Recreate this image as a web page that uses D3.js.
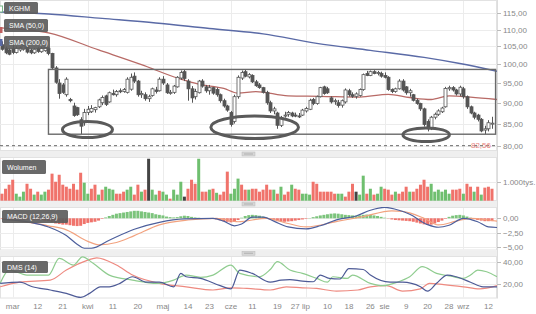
<!DOCTYPE html>
<html><head><meta charset="utf-8">
<script src="https://cdn.jsdelivr.net/npm/d3@7"></script>
<style>body{margin:0;background:#fff}svg{display:block}text{font-family:"Liberation Sans",Arial,sans-serif}</style>
</head><body><svg id="c" width="536" height="314"></svg>
<script>
// ---------- DATA ----------
const firstDay = -3; // trading-day index of first candle (0 = 1 March)
const ohlc = [
[105.5,106.5,103.8,104.2],[104.5,105.0,102.8,103.2],[104.0,104.5,102.5,102.8],[104.5,105.5,102.8,103.3],[103.3,105.0,103.0,104.5],
[104.0,105.0,103.5,104.6],[104.2,105.5,103.8,105.2],[105.0,105.5,103.0,103.4],[104.0,104.5,102.8,103.2],[103.2,104.6,102.9,104.2],
[104.4,104.8,103.2,103.6],[103.5,104.8,103.2,104.5],[103.8,105.2,103.5,104.8],[104.5,104.8,102.5,103.0],[103.0,103.2,98.5,99.0],
[99.0,99.5,94.8,95.2],[95.0,96.0,91.0,92.3],[94.5,95.0,92.2,92.6],[92.0,96.5,91.5,96.0],[90.8,91.2,90.1,90.5],
[89.2,90.0,86.6,86.9],[88.8,89.0,86.8,87.1],[85.9,86.5,82.6,84.4],[85.2,88.5,84.5,87.6],[87.6,89.2,87.0,88.4],
[87.8,89.4,87.5,88.6],[88.3,89.0,87.6,88.8],[89.0,91.0,88.7,90.7],[90.0,91.8,89.4,91.3],[91.7,92.0,89.2,89.6],
[90.2,92.8,90.0,92.5],[92.3,93.3,91.8,92.0],[92.0,93.2,91.5,92.8],[93.0,93.6,92.4,92.8],[92.8,93.7,92.5,93.3],
[92.6,96.5,92.3,96.0],[93.4,97.5,93.0,96.5],[96.8,97.8,95.0,95.5],[95.5,95.8,91.5,92.0],[92.0,93.0,91.2,92.3],
[92.0,92.6,90.5,91.0],[91.0,92.0,90.2,91.5],[91.8,93.8,91.5,93.5],[93.2,94.0,92.3,92.8],[93.0,96.5,92.8,96.0],
[96.0,96.8,94.5,95.0],[94.5,95.0,92.2,92.5],[92.5,93.2,92.0,92.6],[92.6,94.5,92.2,94.2],[94.0,96.8,93.8,96.5],
[96.3,98.3,95.8,97.8],[98.0,98.6,95.5,96.2],[95.5,96.0,90.5,93.5],[93.5,94.2,90.0,91.2],[91.5,93.5,90.8,92.8],
[92.5,95.8,92.3,95.5],[95.5,96.0,93.8,94.2],[94.0,94.5,92.5,93.0],[93.0,94.5,92.0,93.8],[93.8,94.0,92.0,92.4],
[93.3,93.8,91.5,92.0],[92.0,92.3,90.0,90.5],[90.5,91.0,88.8,89.2],[89.2,89.5,87.8,88.2],[87.6,88.0,84.3,84.8],
[85.5,92.0,85.0,91.5],[91.5,97.0,91.0,96.5],[96.3,98.3,95.8,97.8],[98.0,98.5,96.5,96.8],[96.6,97.6,96.2,97.2],
[97.0,97.3,95.0,95.3],[95.3,95.8,94.0,94.3],[94.5,95.0,93.5,93.8],[93.8,94.0,92.3,92.6],[92.6,93.0,89.5,90.0],
[90.0,90.5,87.5,88.0],[88.0,89.0,87.2,88.5],[87.5,87.8,83.8,84.6],[84.6,86.8,84.2,86.4],[86.8,87.8,86.4,87.0],
[87.2,88.0,86.6,87.6],[87.5,87.8,86.5,86.8],[87.0,87.6,86.5,86.8],[86.8,87.5,86.3,86.7],[87.0,88.5,86.8,88.2],
[88.0,89.0,87.6,88.6],[88.4,91.0,88.2,90.6],[90.8,91.2,89.4,89.8],[89.8,91.8,89.5,91.5],[91.5,94.0,91.3,93.8],
[94.0,94.3,92.0,92.3],[93.5,94.0,92.2,92.5],[91.2,91.6,89.8,90.2],[90.3,91.0,89.5,90.5],[90.0,90.7,88.8,89.3],
[89.4,90.8,88.8,90.5],[90.2,93.6,89.8,93.2],[93.0,93.5,91.5,92.0],[92.0,92.6,91.2,91.6],[91.6,92.6,91.0,92.2],
[91.8,93.6,91.5,93.3],[93.3,97.5,93.0,97.2],[97.5,98.2,96.8,97.0],[97.0,98.3,96.8,98.0],[98.0,98.4,97.3,97.5],
[97.5,98.2,97.0,97.8],[97.5,98.0,96.4,96.8],[97.0,97.8,96.2,96.5],[96.5,96.8,93.0,93.3],[93.3,93.6,92.4,92.8],
[92.8,93.8,92.5,93.5],[93.5,96.0,93.3,95.5],[95.5,96.0,92.8,93.2],[94.0,94.2,92.0,92.5],[92.5,93.5,91.5,93.0],
[92.0,92.2,90.3,90.6],[90.6,91.0,89.5,89.8],[89.8,90.0,88.0,88.5],[88.5,88.8,84.3,84.8],[85.5,86.0,83.2,83.8],
[84.0,86.8,83.5,86.5],[86.5,87.6,86.0,87.2],[87.2,88.4,86.8,88.0],[87.8,89.0,87.5,88.7],[89.0,94.0,88.8,93.6],
[93.5,94.3,93.0,93.8],[93.8,94.2,92.8,93.2],[93.2,93.5,91.8,92.2],[92.2,94.3,91.6,93.9],[93.5,94.0,91.0,91.5],
[91.5,91.8,88.5,89.0],[89.0,89.3,87.2,87.5],[87.5,87.8,86.0,86.5],[87.0,87.3,85.5,86.0],[86.0,86.3,83.0,83.3],
[83.5,84.5,82.56,83.8],[83.8,85.8,83.2,85.2],[85.0,86.6,83.8,85.1]
];
const volume = [
380,650,870,1140,380,220,490,920,650,330, 490,330,490,600,1470,1030,1410,870,760,650,
920,600,1520,980,380,650,870,330,600,760, 650,600,380,380,490,600,760,330,870,490,
600,2280,600,330,540,490,330,110,600,330, 1030,220,650,1140,920,2280,490,490,600,650,
430,330,490,1580,380,650,1200,870,600,600, 650,650,490,600,870,600,600,380,760,330,
490,870,650,600,380,380,330,1030,920,490, 490,490,490,380,380,380,220,490,920,490,
330,1360,380,650,330,380,760,650,600,330, 490,380,490,760,490,490,650,870,1140,760,
920,490,600,490,600,380,600,600,650,380, 920,760,490,760,330,710,760,650
];
const volumeDir = ("rrrrgggrrg rggrrrrrrr rrrggrrgrg ggrrrggrrg rdggrggrgg gdrrrgrrgr grrrgggrrg " +
                   "rrrrrrgrgr rgrrgggrrr rrrrggrrrd ggrgrggrrr grrrgrrrrr ggggggrrrg rrgrgrrr").replace(/ /g,"").split("");
const macdHist = [
-0.1,-0.1,-0.15,-0.2,-0.2,-0.2,-0.25,-0.2,-0.2,-0.25, -0.3,-0.3,-0.4,-0.5,-0.7,-0.9,-1.0,-1.1,-1.1,-1.2,
-1.3,-1.35,-1.3,-1.0,-0.8,-0.7,-0.6,-0.4,-0.1,0.15, 0.4,0.6,0.8,0.9,1.0,1.1,1.2,1.3,1.3,1.2,
1.1,1.0,0.9,0.7,0.6,0.5,0.3,0.2,0.15,0.2, 0.35,0.45,0.4,0.25,0.15,0.1,0.05,0.0,-0.05,-0.1,
-0.2,-0.35,-0.5,-0.6,-0.7,-0.6,-0.3,0.1,0.4,0.55, 0.6,0.55,0.45,0.3,0.1,-0.2,-0.35,-0.5,-0.6,-0.6,
-0.55,-0.5,-0.4,-0.3,-0.2,-0.1,0.05,0.2,0.35,0.5, 0.6,0.7,0.8,0.85,0.8,0.7,0.6,0.55,0.5,0.45,
0.5,0.6,0.65,0.6,0.5,0.4,0.25,0.1,-0.05,-0.2, -0.3,-0.35,-0.4,-0.45,-0.5,-0.6,-0.75,-0.9,-1.05,-1.15,
-1.1,-0.9,-0.65,-0.4,-0.1,0.25,0.45,0.55,0.6,0.5, 0.3,0.1,-0.15,-0.3,-0.4,-0.5,-0.5,-0.5
];
const macdLine = [[-3,-0.2],[5,-0.7],[10,-1.5],[15,-3.0],[18,-4.5],[20,-5.2],[22,-5.2],[27,-3.8],[34,-1.9],[41,-0.7],[48,-0.1],[56,0.0],[59,-0.5],[62,-1.3],[64,-1.0],[67,0.2],[70,0.2],[73,-0.5],[77,-1.5],[82,-1.85],[86,-1.3],[91,-0.2],[96,0.4],[100,1.4],[104,1.9],[108,1.4],[111,0.7],[116,-1.1],[119,-1.55],[122,-1.2],[126,0.0],[130,-0.6],[133,-1.5],[135.4,-1.6]];
const signalLine = [[-3,-0.1],[10,-1.3],[15,-2.0],[21,-4.0],[24,-4.6],[29,-4.2],[34,-3.0],[41,-1.15],[49,-0.3],[57,0.0],[63,-0.6],[71,0.0],[77,-0.9],[82,-1.5],[91,-0.5],[98,0.3],[106,1.3],[109,1.2],[115,0.0],[119,-1.15],[124,-0.5],[128,0.0],[133,-0.3],[135.4,-0.5]];
const sma50 = [[-3.5,110.5],[10,109.0],[24,104.0],[36,99.9],[47,96.0],[52,94.7],[59,93.6],[63,92.4],[68,92.8],[77,91.7],[86,91.6],[97,91.4],[105,92.1],[111,91.3],[117,90.8],[122,91.7],[128,91.4],[135.4,90.8]];
const sma200 = [[-3.5,115.4],[10,114.8],[25,113.4],[40,112.0],[55,110.3],[70,108.7],[85,105.9],[100,103.9],[115,101.9],[125,100.2],[135.4,98.1]];
const dmsPlus = [[-3.5,20.6],[-1,32.5],[4,28],[10,28],[13,43],[17,37],[19.5,44.4],[22.5,38.5],[27,28],[33.5,23.5],[40.5,20.6],[45,23.5],[48.5,28],[52.5,26],[56,28],[61,37],[63.5,29.5],[69,26.5],[72,33],[74,40],[77.5,32.5],[81,29.5],[85,25],[88,21.6],[89.5,26.5],[93.5,25],[95,28],[100,20.6],[103.5,18.5],[107.5,21.6],[111,26.5],[114.5,35.5],[118.5,29.5],[122.5,27],[126,25],[128,28],[130,32.5],[132.5,31],[135.4,26.5]];
const dmsMinus = [[-3.5,20.6],[2,21.6],[5.5,17.5],[10.5,14.6],[15,11.6],[19,8],[21.5,11.6],[24.5,17.5],[27,17.5],[30,20.6],[33.5,26.5],[37.5,21.6],[41,21.6],[45,17.5],[47,29.5],[48.5,26.5],[52.5,25],[58,18.5],[61,15.6],[63.5,32.5],[67,29.5],[72,21.6],[75,23.5],[77.5,24],[81,22.5],[84,22],[86,27.9],[88.5,25],[91.5,24.5],[94,33.8],[98,33],[100,28],[105.5,21.6],[109,21.6],[114,17.5],[116,13.6],[118.5,20.6],[121.5,28],[124,26.5],[128,21.6],[131.5,17.5],[135.4,17.5]];
const adx = [[-3.5,17.5],[2,21.6],[10.5,23.5],[15,32.5],[21,41.4],[23.5,43.5],[29,37],[33.5,28],[41,20.6],[48.5,17.5],[56,14.6],[61,16.6],[65.5,16],[72,14.6],[76.5,17.5],[81,16.6],[85,16],[90.5,13.6],[96.5,14.6],[100,17.5],[104.5,18.5],[109,13.6],[114,15.6],[116.5,20.6],[120.5,19.5],[126,17.5],[130.5,15.6],[135.4,18.5]];
const priceTicks = [115,110,105,100,95,90,85,80];
const macdTicks = [0,-2.5,-5];
const dmsTicks = [40,20];
const volumeTicks = [1000];
const dateTicks = [[0,"mar"],[7,"12"],[14,"21"],[21,"kwi"],[28,"11"],[35,"20"],[42,"maj"],[49,"14"],[55,"23"],[61,"cze"],[67,"11"],[74,"19"],[79,"27"],[82,"lip"],[88,"10"],[94,"18"],[100,"26"],[104,"sie"],[110,"9"],[116,"20"],[122,"28"],[126,"wrz"],[133,"12"]];
const monthStarts = [0,21,42,61,82,104,126];
const channel = {from:10, to:135, top:98.6, bottom:82.56};
const circles = [{d0:13.9,d1:27.9,p0:85.5,p1:81.8},{d0:55.4,d1:79.9,p0:86.8,p1:81.6},{d0:109.1,d1:122.1,p0:84.0,p1:80.9}];
const minLevel = 80, minLabel = "82,56";

// ---------- CHART ----------
const PR = 497;
const svg = d3.select("#c");
const x = d3.scaleLinear().domain([-3.55,135.4]).range([0,PR]);
const yP = d3.scaleLog().domain([80,115]).range([145.7,13.3]);
const yV = d3.scaleLinear().domain([0,1000]).range([200.7,182.3]);
const yM = d3.scaleLinear().domain([0,-2.5]).range([218.3,232.7]);
const yD = d3.scaleLinear().domain([40,20]).range([261.7,284]);
const panels = [{y0:0,y1:151},{y0:157,y1:201},{y0:207,y1:250.5},{y0:256,y1:298.5}];
const fmt = v => d3.format(".2f")(v).replace(".",",");
const defs = svg.append("defs");
panels.forEach((p,i)=>defs.append("clipPath").attr("id","cp"+i).append("rect").attr("x",0).attr("y",p.y0).attr("width",PR).attr("height",p.y1-p.y0));

// panels background + separators
panels.forEach((p,i)=>{
  svg.append("rect").attr("x",0.5).attr("y",p.y0+0.5).attr("width",PR-1).attr("height",p.y1-p.y0-1).attr("fill","#fff").attr("stroke","#e2e2e2");
  if(i<panels.length-1){
    const s0=p.y1, s1=panels[i+1].y0;
    svg.append("rect").attr("x",0).attr("y",s0).attr("width",PR).attr("height",s1-s0).attr("fill","#efefef");
    const cy=(s0+s1)/2;
    svg.append("rect").attr("x",242).attr("y",cy-2).attr("width",13).attr("height",4).attr("fill","#d6d6d6").attr("stroke","#bbb").attr("stroke-width",0.5);
    svg.append("line").attr("x1",244).attr("x2",253).attr("y1",cy).attr("y2",cy).attr("stroke","#999").attr("stroke-width",0.6);
  }
});
svg.append("line").attr("x1",PR+0.5).attr("x2",PR+0.5).attr("y1",0).attr("y2",298.5).attr("stroke","#ddd");

// vertical grid
panels.forEach((p,i)=>{
  svg.append("g").selectAll("line").data(monthStarts).join("line")
    .attr("x1",d=>Math.round(x(d))+0.5).attr("x2",d=>Math.round(x(d))+0.5)
    .attr("y1",p.y0+1).attr("y2",p.y1-1).attr("stroke","#ececec");
});
function hAxis(scale, ticks, p, labelFn){
  const g=svg.append("g");
  g.selectAll("line.g").data(ticks).join("line").attr("class","g")
    .attr("x1",0).attr("x2",PR).attr("y1",d=>Math.round(scale(d))+0.5).attr("y2",d=>Math.round(scale(d))+0.5).attr("stroke","#ececec");
  g.selectAll("line.t").data(ticks).join("line").attr("class","t")
    .attr("x1",PR).attr("x2",PR+4).attr("y1",d=>Math.round(scale(d))+0.5).attr("y2",d=>Math.round(scale(d))+0.5).attr("stroke","#bbb");
  g.selectAll("text").data(ticks).join("text")
    .attr("x",PR+6).attr("y",d=>scale(d)+3).attr("font-size",8).attr("fill","#888").text(labelFn);
}
hAxis(yP, priceTicks, panels[0], fmt);
hAxis(yV, volumeTicks, panels[1], d=>d3.format(",")(d).replace(",",".")+"tys.");
hAxis(yM, macdTicks, panels[2], fmt);
hAxis(yD, dmsTicks, panels[3], fmt);

svg.append("g").selectAll("text").data(dateTicks).join("text")
  .attr("x",d=>x(d[0])).attr("y",309).attr("text-anchor","middle").attr("font-size",8).attr("fill","#888").text(d=>d[1]);

// ---- price panel ----
const gp = svg.append("g").attr("clip-path","url(#cp0)");
const line = (xs,ys)=>d3.line().x(d=>xs(d[0])).y(d=>ys(d[1])).curve(d3.curveMonotoneX);
gp.append("path").datum(sma200).attr("d",line(x,yP)).attr("fill","none").attr("stroke","#5a6aa6").attr("stroke-width",1.4);
gp.append("path").datum(sma50).attr("d",line(x,yP)).attr("fill","none").attr("stroke","#b86a66").attr("stroke-width",1.3);
const candles = ohlc.map((r,i)=>({d:firstDay+i,o:r[0],h:r[1],l:r[2],c:r[3]}));
const cg = gp.append("g");
cg.selectAll("line").data(candles).join("line")
  .attr("x1",d=>Math.round(x(d.d))+0.5).attr("x2",d=>Math.round(x(d.d))+0.5)
  .attr("y1",d=>yP(d.h)).attr("y2",d=>yP(d.l)).attr("stroke","#555").attr("stroke-width",1);
cg.selectAll("rect").data(candles).join("rect")
  .attr("x",d=>Math.round(x(d.d))-1).attr("width",3)
  .attr("y",d=>yP(Math.max(d.o,d.c))).attr("height",d=>Math.max(1,Math.abs(yP(d.o)-yP(d.c))))
  .attr("fill",d=>d.c>=d.o?"#fff":"#555").attr("stroke","#555").attr("stroke-width",0.8);
gp.append("rect").attr("x",x(channel.from)).attr("y",yP(channel.top)).attr("width",x(channel.to)-x(channel.from)).attr("height",yP(channel.bottom)-yP(channel.top))
  .attr("fill","none").attr("stroke","#6a6a6a").attr("stroke-width",1.4);
gp.selectAll("ellipse").data(circles).join("ellipse")
  .attr("cx",d=>(x(d.d0)+x(d.d1))/2).attr("cy",d=>(yP(d.p0)+yP(d.p1))/2)
  .attr("rx",d=>(x(d.d1)-x(d.d0))/2).attr("ry",d=>(yP(d.p1)-yP(d.p0))/2)
  .attr("fill","none").attr("stroke","#5a5a5a").attr("stroke-width",3);
gp.append("line").attr("x1",0).attr("x2",PR).attr("y1",yP(minLevel)).attr("y2",yP(minLevel))
  .attr("stroke","#666").attr("stroke-dasharray","3,3").attr("stroke-width",1);
svg.append("text").attr("x",491).attr("y",yP(minLevel)+2.5).attr("text-anchor","end").attr("font-size",8).attr("fill","#e8827c").text(minLabel);

// ---- volume ----
const vcol = {r:"#f0736b", g:"#6fbf6f", d:"#444"};
svg.append("g").attr("clip-path","url(#cp1)").selectAll("rect").data(volume).join("rect")
  .attr("x",(d,i)=>x(firstDay+i)-1.5).attr("width",3)
  .attr("y",d=>yV(d)).attr("height",d=>yV(0)-yV(d)).attr("fill",(d,i)=>vcol[volumeDir[i]]);

// ---- MACD ----
const gm = svg.append("g").attr("clip-path","url(#cp2)");
gm.selectAll("rect").data(macdHist).join("rect")
  .attr("x",(d,i)=>x(firstDay+i)-1.5).attr("width",3)
  .attr("y",d=>Math.min(yM(d),yM(0))).attr("height",d=>Math.abs(yM(d)-yM(0)))
  .attr("fill",d=>d>=0?"#7cc47c":"#f0736b");
gm.append("path").datum(signalLine).attr("d",line(x,yM)).attr("fill","none").attr("stroke","#f2a27f").attr("stroke-width",1.2);
gm.append("path").datum(macdLine).attr("d",line(x,yM)).attr("fill","none").attr("stroke","#4d5f9c").attr("stroke-width",1.2);

// ---- DMS ----
const gd = svg.append("g").attr("clip-path","url(#cp3)");
gd.append("path").datum(adx).attr("d",line(x,yD)).attr("fill","none").attr("stroke","#ee8a80").attr("stroke-width",1.2);
gd.append("path").datum(dmsPlus).attr("d",line(x,yD)).attr("fill","none").attr("stroke","#8fcc8f").attr("stroke-width",1.2);
gd.append("path").datum(dmsMinus).attr("d",line(x,yD)).attr("fill","none").attr("stroke","#4d5a96").attr("stroke-width",1.2);

// ---- labels ----
function tag(xx,yy,w,h,txt){
  svg.append("rect").attr("x",xx).attr("y",yy).attr("width",w).attr("height",h).attr("rx",1.5).attr("fill","#5c5c5c").attr("opacity",0.92);
  svg.append("text").attr("x",xx+5).attr("y",yy+h/2+2.6).attr("font-size",7).attr("fill","#fff").text(txt);
}
svg.append("rect").attr("x",-1).attr("y",6).attr("width",3.5).attr("height",6).attr("fill","#fff").attr("stroke","#7bb88a");
svg.append("rect").attr("x",-1).attr("y",27).attr("width",3.5).attr("height",6).attr("fill","#c06060");
svg.append("rect").attr("x",-1).attr("y",39).attr("width",3.5).attr("height",7).attr("fill","#5a6aa6");
tag(4,2,34,12,"KGHM");
tag(4,19,44,13,"SMA (50,0)");
tag(4,36,46,13,"SMA (200,0)");
tag(2,160,44,14,"Wolumen");
tag(2,210,66,13,"MACD (12,26,9)");
tag(2,261,46,12,"DMS (14)");
</script></body></html>
